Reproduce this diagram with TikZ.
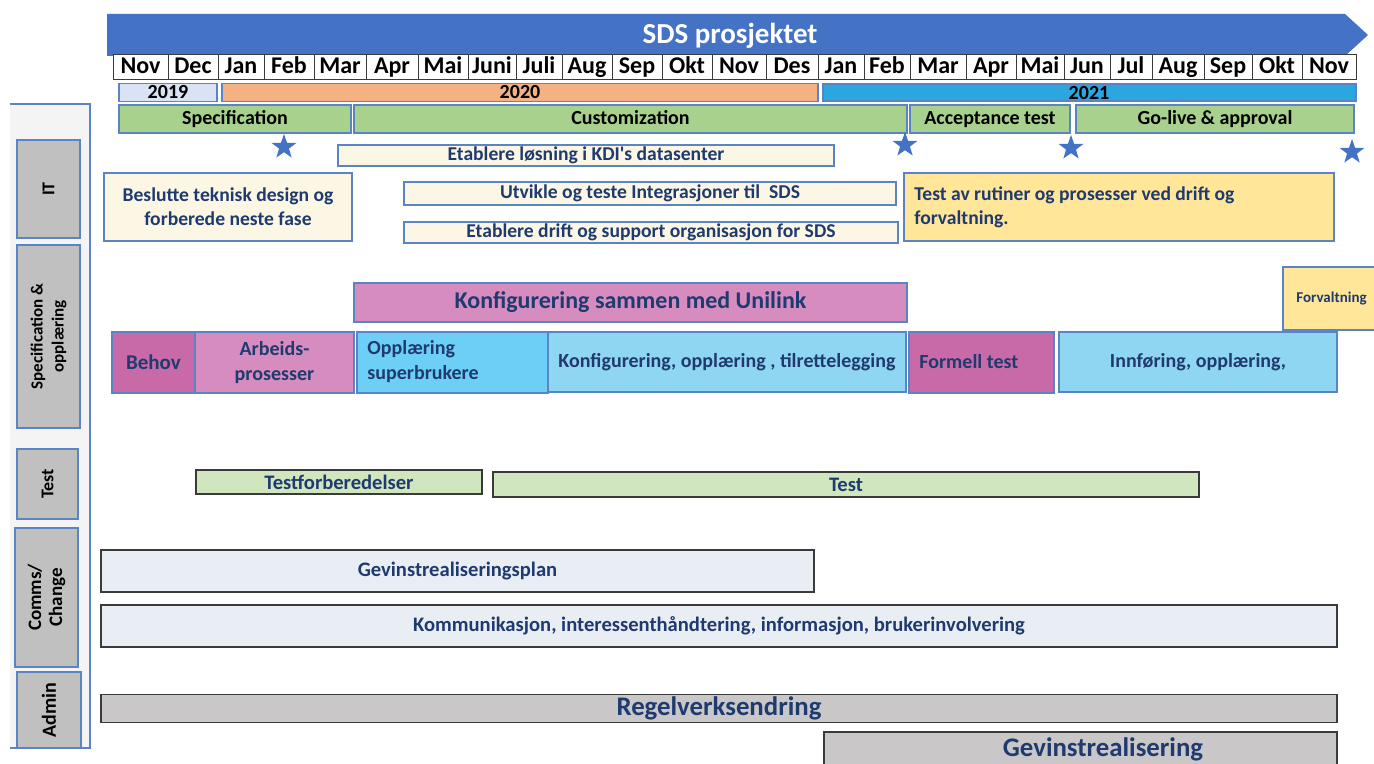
\documentclass[tikz,border=0pt]{standalone}
\usepackage{fontspec}
\setmainfont{Carlito}
\usetikzlibrary{shapes.geometric}
\definecolor{banner}{HTML}{4472C4}
\definecolor{starblue}{HTML}{4472C4}
\definecolor{bordblue}{HTML}{5B84C4}
\definecolor{navy}{HTML}{1F3A6E}
\definecolor{y2019}{HTML}{DAE3F3}
\definecolor{y2020}{HTML}{F4B183}
\definecolor{y2021}{HTML}{2BA6DE}
\definecolor{phase}{HTML}{A9D18E}
\definecolor{cream}{HTML}{FCF7E5}
\definecolor{yell}{HTML}{FFE699}
\definecolor{pink}{HTML}{D68CBF}
\definecolor{magenta}{HTML}{C86AA8}
\definecolor{blueA}{HTML}{6ECFF6}
\definecolor{blueB}{HTML}{8FD6F2}
\definecolor{tgreen}{HTML}{D0E6BE}
\definecolor{comms}{HTML}{E9EDF4}
\definecolor{admgray}{HTML}{C9C7C7}
\definecolor{panel}{HTML}{F4F4F4}
\definecolor{labgray}{HTML}{C0C0C0}
\definecolor{darkbord}{HTML}{3A3A3A}
\newcommand{\tbox}[7][]{\node[tb,#1,minimum width={(#5-#3)*0.5pt},minimum height={(#6-#4)*0.5pt}] (#2) at ({(#3+#5)/2},{(#4+#6)/2}) {#7};}
\tikzset{
  tb/.style={draw, inner sep=1pt, outer sep=0pt, font=\bfseries, text=navy, line width=0.6pt},
  month/.style={tb, fill=white, draw=darkbord, line width=0.5pt, text=black, font=\fontsize{12}{13}\selectfont\bfseries, text height=8pt, text depth=1.8pt},
  yearbox/.style={tb, draw=bordblue, text=black, font=\fontsize{10}{11}\selectfont\bfseries},
  yeartext/.style={text=black, font=\fontsize{10}{11}\selectfont\bfseries, inner sep=0pt},
  phasebox/.style={tb, fill=phase, draw=bordblue, text=black, font=\fontsize{10}{11}\selectfont\bfseries, text height=6.5pt, text depth=1.2pt},
  creambox/.style={tb, fill=cream, draw=bordblue, font=\fontsize{9.8}{12}\selectfont\bfseries, align=center},
  specbox/.style={tb, draw=bordblue, font=\fontsize{10}{12.5}\selectfont\bfseries, align=center},
  lefttext/.style={anchor=west, align=left, inner sep=0pt, text=navy},
  testbox/.style={tb, fill=tgreen, draw=darkbord, font=\fontsize{10.3}{11}\selectfont\bfseries},
  commbox/.style={tb, fill=comms, draw=darkbord, font=\fontsize{10.3}{11}\selectfont\bfseries},
  admbox/.style={tb, fill=admgray, draw=darkbord, font=\fontsize{13.4}{14}\selectfont\bfseries},
  labbox/.style={tb, fill=labgray, draw=bordblue, line width=0.8pt},
  labtext/.style={rotate=90, align=center, text=black, inner sep=0pt},
  milestone/.style={star, star points=5, star point ratio=2.5, fill=starblue, draw=none, minimum size=13pt, inner sep=0pt}
}
\begin{document}
\begin{tikzpicture}[x=0.5pt,y=-0.5pt]
\useasboundingbox (0,0) rectangle (1374,764);
\clip (0,0) rectangle (1374,764);
\fill[white] (0,0) rectangle (1374,764);
% banner
\fill[banner] (107,14) -- (1345,14) -- (1368,35) -- (1345,56) -- (107,56) -- cycle;
\node[text=white, font=\fontsize{14.5}{16}\selectfont\bfseries] (title) at (730,36) {SDS prosjektet};
% months
\foreach \a/\b/\n [count=\i] in {113/168/Nov,168/218/Dec,218/264/Jan,264/314/Feb,314/366/Mar,366/418/Apr,418/468/Mai,468/516/Juni,516/562/Juli,562/612/Aug,612/662/Sep,662/712/Okt,712/766/Nov,766/818/Des,818/864/Jan,864/910/Feb,910/966/Mar,966/1016/Apr,1016/1064/Mai,1064/1110/Jun,1110/1152/Jul,1152/1204/Aug,1204/1252/Sep,1252/1302/Okt,1302/1356/Nov}
  {\tbox[month]{m\i}{\a}{55}{\b}{80}{\n}}
% years
\tbox[yearbox, fill=y2019]{y19}{119}{84}{217}{101}{2019}
\tbox[yearbox, fill=y2020]{y20}{222}{84}{818}{101}{2020}
\tbox[yearbox, fill=y2021]{y21}{823}{84}{1356}{101}{}
\node[yeartext] (t21) at (1089,93) {2021};
% phases
\tbox[phasebox]{p1}{119}{105}{351}{133}{Specification}
\tbox[phasebox]{p2}{354}{105}{907}{133}{Customization}
\tbox[phasebox]{p3}{910}{105}{1070}{133}{Acceptance test}
\tbox[phasebox]{p4}{1076}{105}{1354}{133}{Go-live \& approval}
% stars
\node[milestone] (s1) at (284,147) {};
\node[milestone] (s2) at (905,145) {};
\node[milestone] (s3) at (1071,148) {};
\node[milestone] (s4) at (1352,152) {};
% left panel
\fill[panel] (10,104) rectangle (90,748);
\draw[bordblue, line width=0.6pt] (10,104) -- (90,104) -- (90,748) -- (10,748);
\tbox[labbox]{lIT}{17}{140}{80}{238}{}
\node[labtext, font=\fontsize{9}{10}\selectfont\bfseries] (tIT) at (lIT) {IT};
\tbox[labbox]{lSpec}{17}{245}{80}{428}{}
\node[labtext, font=\fontsize{8.5}{10.5}\selectfont\bfseries] (tSpec) at (lSpec) {Specification \&\\opplæring};
\tbox[labbox]{lTest}{17}{449}{78}{519}{}
\node[labtext, font=\fontsize{9}{10}\selectfont\bfseries] (tTest) at (lTest) {Test};
\tbox[labbox]{lComm}{15}{528}{78}{667}{}
\node[labtext, font=\fontsize{9.5}{10.5}\selectfont\bfseries] (tComm) at (lComm) {Comms/\\Change};
\tbox[labbox]{lAdm}{17}{672}{81}{748}{}
\node[labtext, font=\fontsize{10}{11}\selectfont\bfseries] (tAdm) at (lAdm) {Admin};
% IT
\tbox[creambox]{e1}{338}{146}{834}{165}{Etablere løsning i KDI\textquotesingle s datasenter}
\tbox[creambox]{b1}{104}{173}{352}{241}{Beslutte teknisk design og\\forberede neste fase}
\tbox[creambox]{u1}{404}{182}{896}{205}{Utvikle og teste Integrasjoner til \ SDS}
\tbox[creambox]{d1}{404}{222}{898}{243}{Etablere drift og support organisasjon for SDS}
\tbox[creambox, fill=yell]{ta}{904}{173}{1334}{241}{}
\node[lefttext, font=\fontsize{9.8}{12}\selectfont\bfseries] (tta) at (914,207) {Test av rutiner og prosesser ved drift og\\forvaltning.};
% Spec
\tbox[specbox, fill=pink, font=\fontsize{12}{14}\selectfont\bfseries]{konf}{354}{283}{907}{322}{Konfigurering sammen med Unilink}
\tbox[specbox, fill=yell, font=\fontsize{7.5}{8}\selectfont\bfseries]{forv}{1283}{267}{1380}{330}{Forvaltning}
\tbox[specbox, fill=magenta, font=\fontsize{10.5}{12}\selectfont\bfseries]{behov}{112}{332}{195}{393}{Behov}
\tbox[specbox, fill=pink]{arb}{195}{332}{354}{393}{Arbeids-\\prosesser}
\tbox[specbox, fill=blueA]{oppl}{357}{332}{548}{393}{}
\node[lefttext, font=\fontsize{10}{12.5}\selectfont\bfseries] (toppl) at (367,362) {Opplæring\\superbrukere};
\tbox[specbox, fill=blueB]{konf2}{548}{332}{906}{392}{Konfigurering, opplæring , tilrettelegging}
\tbox[specbox, fill=magenta]{form}{909}{332}{1054}{393}{}
\node[lefttext, font=\fontsize{10}{12.5}\selectfont\bfseries] (tform) at (919,362) {Formell test};
\tbox[specbox, fill=blueB]{innf}{1059}{332}{1337}{392}{Innføring, opplæring,}
% Test
\tbox[testbox]{tf}{196}{470}{482}{494}{Testforberedelser}
\tbox[testbox]{tt}{493}{472}{1199}{497}{Test}
% Comms
\tbox[commbox]{gp}{101}{550}{814}{592}{Gevinstrealiseringsplan}
\tbox[commbox]{kom}{101}{605}{1337}{647}{Kommunikasjon, interessenthåndtering, informasjon, brukerinvolvering}
% Admin
\tbox[admbox]{reg}{101}{695}{1337}{722}{Regelverksendring}
\tbox[admbox]{gev}{824}{732}{1337}{770}{}
\node[text=navy, font=\fontsize{13.4}{14}\selectfont\bfseries] (tgev) at (1103,749) {Gevinstrealisering};
\end{tikzpicture}
\end{document}
